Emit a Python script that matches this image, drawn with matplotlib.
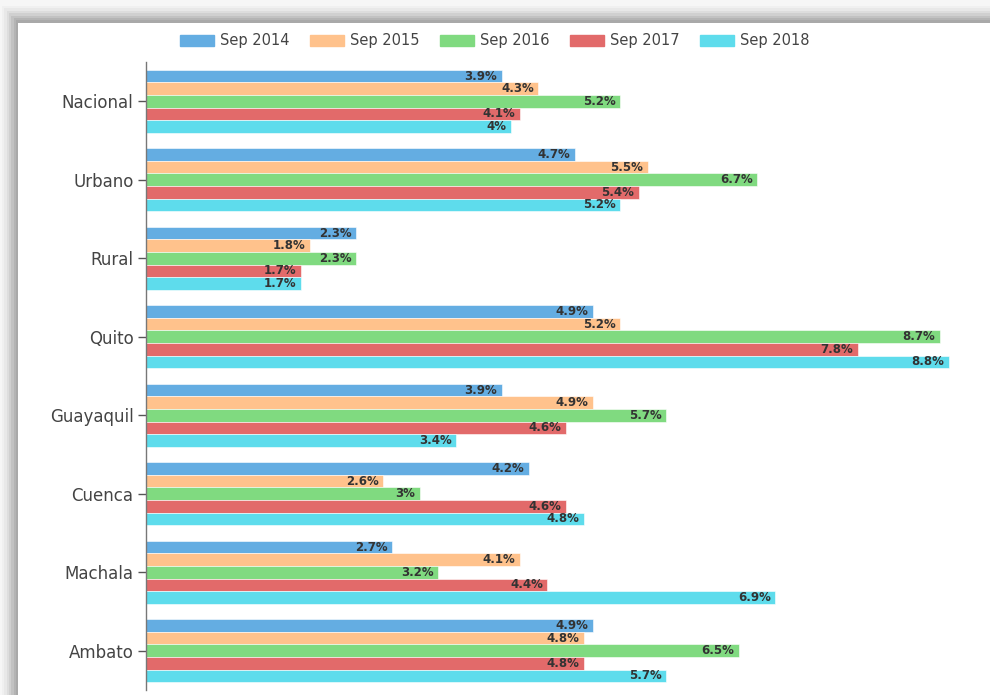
import numpy as np
import matplotlib.pyplot as plt
from matplotlib.patches import Rectangle, Patch

categories = ["Nacional", "Urbano", "Rural", "Quito", "Guayaquil", "Cuenca", "Machala", "Ambato"]
series = ["Sep 2014", "Sep 2015", "Sep 2016", "Sep 2017", "Sep 2018"]
sep2014 = [3.9, 4.7, 2.3, 4.9, 3.9, 4.2, 2.7, 4.9]
sep2015 = [4.3, 5.5, 1.8, 5.2, 4.9, 2.6, 4.1, 4.8]
sep2016 = [5.2, 6.7, 2.3, 8.7, 5.7, 3.0, 3.2, 6.5]
sep2017 = [4.1, 5.4, 1.7, 7.8, 4.6, 4.6, 4.4, 4.8]
sep2018 = [4.0, 5.2, 1.7, 8.8, 3.4, 4.8, 6.9, 5.7]
values = [sep2014, sep2015, sep2016, sep2017, sep2018]
colors = ["#64ADE2", "#FFC28C", "#80DA80", "#E26A6A", "#5EDCEC"]

plt.rcParams['font.family'] = ['DejaVu Sans']

fig = plt.figure(figsize=(9.9, 6.95), dpi=100)
fig.patch.set_facecolor("#f6f6f6")

# shadow frame around the white panel (pixels -> figure fraction)
W, H = 990.0, 695.0
shades = ["#f0f0f0", "#e8e8e8", "#dddddd", "#d0d0d0", "#c2c2c2", "#b4b4b4", "#a9a9a9"]
for i, c in enumerate(shades):
    x0 = 2 + i * 2.3
    y0 = 6 + i * 2.4
    fig.patches.append(Rectangle((x0 / W, 0), 1 - x0 / W, 1 - y0 / H,
                                 transform=fig.transFigure, facecolor=c, edgecolor="none", zorder=-10))
fig.patches.append(Rectangle((18 / W, 0), 1, 1 - 23 / H,
                             transform=fig.transFigure, facecolor="white", edgecolor="none", zorder=-9))

ax = fig.add_axes([146 / W, 5 / H, (967 - 146) / W, 628 / H], zorder=2)
ax.set_facecolor("none")

y = np.arange(len(categories))
h = 0.16
for i, (name, vals) in enumerate(zip(series, values)):
    pos = y + (i - 2) * h
    ax.barh(pos, vals, height=h, color=colors[i], edgecolor="white", linewidth=0.4)
    for p, v in zip(pos, vals):
        txt = ("%g" % v) + "%"
        ax.text(v - 0.05, p, txt, ha="right", va="center", fontsize=8.5,
                fontweight="bold", color="#333333")

ax.set_ylim(len(categories) - 0.5, -0.5)
ax.set_xlim(0, 9.0)
ax.set_yticks(y)
ax.set_yticklabels(categories, fontsize=12, color="#444444")
ax.tick_params(axis="y", length=6, width=1, color="#555555", pad=3)
ax.set_xticks([])
for s in ["top", "right", "bottom"]:
    ax.spines[s].set_visible(False)
ax.spines["left"].set_color("#777777")
ax.spines["left"].set_linewidth(1)

handles = [Patch(facecolor=c, edgecolor=c, label=s) for s, c in zip(series, colors)]
fig.legend(handles=handles, loc="center", bbox_to_anchor=(0.5, 1 - 41 / H), ncol=5,
           frameon=False, fontsize=10.5, handlelength=2.3, handleheight=0.7,
           columnspacing=1.4, handletextpad=0.45, labelcolor="#444444")

fig.savefig("out.png", dpi=100)
